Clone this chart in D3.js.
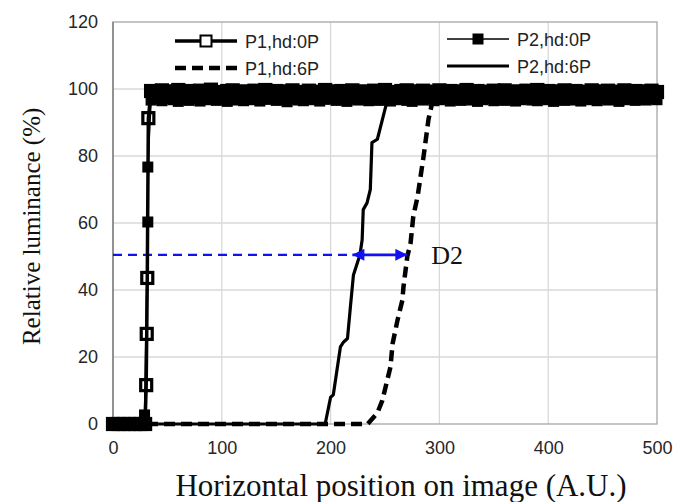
<!DOCTYPE html>
<html>
<head>
<meta charset="utf-8">
<script src="https://cdn.jsdelivr.net/npm/d3@7"></script>
<style>
body { margin: 0; background: #fff; }
svg { display: block; }
</style>
</head>
<body>
<script>
// axis ticks
var xTicks = [0, 100, 200, 300, 400, 500]
var yTicks = [0, 20, 40, 60, 80, 100, 120]

// P1,hd:0P - foot, rise and plateau (plateau sampled every 5 units from 35)
var p1Foot = [[0, 0], [5, 0], [10, 0], [15, 0], [20, 0], [25, 0], [29.5, 0]]
var p1Rise = [[30.5, 11.6], [31, 26.9], [31.5, 43.6], [32.5, 91.3]]
var p1Plateau = [99.4, 99.1, 99.6, 98.9, 99.3, 99.7, 99.0, 99.4, 98.8, 99.5,
	99.2, 99.8, 99.1, 98.9, 99.4, 99.6, 99.0, 99.3, 98.7, 99.5,
	99.2, 99.7, 99.0, 99.4, 98.9, 99.3, 99.6, 99.1, 98.8, 99.5,
	99.2, 99.0, 99.7, 99.3, 98.9, 99.4, 99.1, 99.6, 99.0, 99.3,
	98.8, 99.5, 99.2, 99.7, 99.1, 98.9, 99.4, 99.6, 99.0, 99.3,
	99.5, 98.8, 99.2, 99.6, 99.1, 99.4, 98.9, 99.3, 99.7, 99.0,
	99.4, 99.2, 98.8, 99.5, 99.1, 99.6, 99.0, 99.3, 98.9, 99.5,
	99.2, 99.7, 99.0, 99.4, 98.8, 99.3, 99.6, 99.1, 99.4, 98.9,
	99.2, 99.6, 99.0, 99.3, 99.5, 98.9, 99.2, 99.6, 99.1, 99.4,
	99.0, 99.3, 99.5, 99.1]

// P2,hd:0P
var p2Foot = [[0, 0], [5, 0], [10, 0], [15, 0], [20, 0], [25, 0], [28, 0]]
var p2Rise = [[29, 2.7], [32, 60.3], [32, 76.7]]
var p2Plateau = [96.7, 97.0, 96.5, 97.2, 96.8, 96.3, 96.9, 96.6, 97.1, 96.4,
	96.8, 97.2, 96.6, 96.9, 96.3, 96.7, 97.0, 96.5, 97.3, 96.8,
	96.4, 96.9, 97.1, 96.6, 96.8, 96.2, 97.0, 96.7, 96.5, 97.1,
	96.8, 96.4, 96.9, 97.2, 96.6, 96.8, 96.3, 97.0, 96.7, 97.1,
	96.5, 96.9, 96.6, 97.2, 96.4, 96.8, 97.0, 96.6, 96.3, 96.9,
	96.7, 97.1, 96.5, 96.8, 97.2, 96.4, 96.9, 96.6, 97.0, 96.7,
	96.3, 96.8, 97.1, 96.5, 96.9, 96.6, 97.2, 96.4, 96.8, 97.0,
	96.7, 96.5, 97.1, 96.8, 96.3, 96.9, 96.6, 97.2, 96.7, 96.4,
	97.0, 96.8, 96.5, 97.1, 96.7, 96.9, 96.3, 96.8, 97.0, 96.6,
	96.9, 96.7, 97.2, 96.8]
var plateauStart = 35
var plateauStep = 5

// P1,hd:6P (dashed)
var p1Shift = [[0, 0], [234, 0], [243, 3.3], [247.5, 7], [252, 13], [255, 17],
	[257, 24], [261.5, 31], [266, 37], [267, 41], [270.5, 50], [273.5, 54],
	[276, 62], [280, 68], [285.5, 80], [290, 91], [294.5, 97.5],
	[350, 98], [450, 97.8], [500, 98]]

// P2,hd:6P (solid)
var p2Shift = [[0, 0], [195, 0], [200, 8], [202.5, 8.7], [209, 23], [212, 24.5],
	[215.5, 25.5], [218.5, 36], [221, 44.5], [227, 50.5], [229, 55], [230, 64],
	[233.5, 66], [236.5, 70], [238, 84], [243, 85], [250.5, 94.6], [253, 97],
	[260, 97.6], [350, 97.8], [450, 97.5], [500, 97.6]]

// D2 annotation
var d2Level = 50.5
var d2From = 220
var d2To = 270.5

var width = 676, height = 502
var margin = {left: 113, right: 19, top: 22, bottom: 78}

var svg = d3.select("body").append("svg")
	.attr("width", width)
	.attr("height", height)

var x = d3.scaleLinear().domain([0, 500]).range([margin.left, width - margin.right])
var y = d3.scaleLinear().domain([0, 120]).range([height - margin.bottom, margin.top])

function withPlateau(foot, rise, plateau) {
	var pts = foot.concat(rise).map(function(d) { return [d[0], d[1], false] })
	plateau.forEach(function(v, i) {
		pts.push([plateauStart + i * plateauStep, v, true])
	})
	return pts
}

var p1 = withPlateau(p1Foot, p1Rise, p1Plateau)
var p2 = withPlateau(p2Foot, p2Rise, p2Plateau)

// grid
svg.append("g").selectAll("line.gy")
	.data(yTicks.filter(function(d) { return d > 0 && d < 120 }))
	.join("line")
	.attr("x1", x(0)).attr("x2", x(500))
	.attr("y1", function(d) { return y(d) }).attr("y2", function(d) { return y(d) })
	.attr("stroke", "#d9d9d9").attr("stroke-width", 1.3)

svg.append("g").selectAll("line.gx")
	.data(xTicks.filter(function(d) { return d > 0 && d < 500 }))
	.join("line")
	.attr("x1", function(d) { return x(d) }).attr("x2", function(d) { return x(d) })
	.attr("y1", y(0)).attr("y2", y(120))
	.attr("stroke", "#d9d9d9").attr("stroke-width", 1.3)

// frame
svg.append("rect")
	.attr("x", x(0)).attr("y", y(120))
	.attr("width", x(500) - x(0)).attr("height", y(0) - y(120))
	.attr("fill", "none").attr("stroke", "#a6a6a6").attr("stroke-width", 1.3)
svg.append("line")
	.attr("x1", x(0)).attr("x2", x(0)).attr("y1", y(0)).attr("y2", y(120))
	.attr("stroke", "#808080").attr("stroke-width", 1.5)

// axes
var xAxis = svg.append("g")
	.attr("transform", "translate(0," + (y(0) + 11) + ")")
	.call(d3.axisBottom(x).tickValues(xTicks).tickSize(0).tickPadding(6))
var yAxis = svg.append("g")
	.attr("transform", "translate(" + (x(0) - 15) + ",0)")
	.call(d3.axisLeft(y).tickValues(yTicks).tickSize(0).tickPadding(0))
;[xAxis, yAxis].forEach(function(a) {
	a.select(".domain").remove()
	a.selectAll("text")
		.attr("font-family", "'Liberation Sans', Arial, sans-serif")
		.attr("font-size", 18)
		.attr("fill", "#262626")
})

// axis titles
svg.append("text")
	.attr("x", 401).attr("y", 496)
	.attr("text-anchor", "middle")
	.attr("font-family", "'Liberation Serif', 'Times New Roman', serif")
	.attr("font-size", 31)
	.attr("fill", "#111")
	.text("Horizontal position on image (A.U.)")
svg.append("text")
	.attr("transform", "translate(40," + y(59) + ") rotate(-90)")
	.attr("text-anchor", "middle")
	.attr("font-family", "'Liberation Serif', 'Times New Roman', serif")
	.attr("font-size", 25)
	.attr("fill", "#111")
	.text("Relative luminance (%)")

var line = d3.line()
	.x(function(d) { return x(d[0]) })
	.y(function(d) { return y(d[1]) })

// shifted curves
svg.append("path").datum(p1Shift)
	.attr("d", line).attr("fill", "none")
	.attr("stroke", "#000").attr("stroke-width", 4.5)
	.attr("stroke-dasharray", "11,6")
svg.append("path").datum(p2Shift)
	.attr("d", line).attr("fill", "none")
	.attr("stroke", "#000").attr("stroke-width", 3.2)
	.attr("stroke-linejoin", "round")

// D2 annotation
var defs = svg.append("defs")
defs.append("marker").attr("id", "ah")
	.attr("viewBox", "0 0 10 10").attr("refX", 10).attr("refY", 5)
	.attr("markerWidth", 15).attr("markerHeight", 12)
	.attr("markerUnits", "userSpaceOnUse")
	.attr("orient", "auto-start-reverse")
	.append("path").attr("d", "M0,0L10,5L0,10Z").attr("fill", "#1010f0")

svg.append("line")
	.attr("x1", x(0)).attr("x2", x(d2From))
	.attr("y1", y(d2Level)).attr("y2", y(d2Level))
	.attr("stroke", "#1010f0").attr("stroke-width", 2.4)
	.attr("stroke-dasharray", "9,6")
svg.append("line")
	.attr("x1", x(d2From)).attr("x2", x(d2To))
	.attr("y1", y(d2Level)).attr("y2", y(d2Level))
	.attr("stroke", "#1010f0").attr("stroke-width", 2.6)
	.attr("marker-start", "url(#ah)").attr("marker-end", "url(#ah)")
svg.append("text")
	.attr("x", x(d2To) + 24).attr("y", y(d2Level) + 9)
	.attr("font-family", "'Liberation Serif', 'Times New Roman', serif")
	.attr("font-size", 26)
	.attr("fill", "#111")
	.text("D2")

// 0P curves - in the dense plateau the overlapping markers merge into a solid band
var ms = 11
svg.append("path").datum(p1)
	.attr("d", line).attr("fill", "none")
	.attr("stroke", "#000").attr("stroke-width", 3.5)
svg.append("g").selectAll("rect")
	.data(p1).join("rect")
	.attr("x", function(d) { return x(d[0]) - ms / 2 })
	.attr("y", function(d) { return y(d[1]) - ms / 2 })
	.attr("width", ms).attr("height", ms)
	.attr("fill", function(d) { return d[2] ? "#000" : "none" })
	.attr("stroke", "#000").attr("stroke-width", 3.2)

svg.append("path").datum(p2)
	.attr("d", line).attr("fill", "none")
	.attr("stroke", "#000").attr("stroke-width", 1.6)
svg.append("g").selectAll("rect")
	.data(p2).join("rect")
	.attr("x", function(d) { return x(d[0]) - ms / 2 })
	.attr("y", function(d) { return y(d[1]) - ms / 2 })
	.attr("width", ms).attr("height", ms)
	.attr("fill", "#000")

// legend
var legendItems = [
	{label: "P1,hd:0P", x0: 175, yy: 41, w: 3.5, dash: null, mark: "open"},
	{label: "P1,hd:6P", x0: 175, yy: 68, w: 4.5, dash: "11,6", mark: null},
	{label: "P2,hd:0P", x0: 447, yy: 39, w: 1.6, dash: null, mark: "filled"},
	{label: "P2,hd:6P", x0: 447, yy: 66, w: 3.2, dash: null, mark: null}
]
var lg = svg.append("g").selectAll("g").data(legendItems).join("g")
lg.append("line")
	.attr("x1", function(d) { return d.x0 }).attr("x2", function(d) { return d.x0 + 62 })
	.attr("y1", function(d) { return d.yy }).attr("y2", function(d) { return d.yy })
	.attr("stroke", "#000")
	.attr("stroke-width", function(d) { return d.w })
	.attr("stroke-dasharray", function(d) { return d.dash })
lg.filter(function(d) { return d.mark }).append("rect")
	.attr("x", function(d) { return d.x0 + 31 - 5.5 })
	.attr("y", function(d) { return d.yy - 5.5 })
	.attr("width", 11).attr("height", 11)
	.attr("fill", function(d) { return d.mark === "open" ? "#fff" : "#000" })
	.attr("stroke", "#000")
	.attr("stroke-width", function(d) { return d.mark === "open" ? 2 : 0 })
lg.append("text")
	.attr("x", function(d) { return d.x0 + 70 })
	.attr("y", function(d) { return d.yy + 6.5 })
	.attr("font-family", "'Liberation Sans', Arial, sans-serif")
	.attr("font-size", 18)
	.attr("fill", "#222")
	.text(function(d) { return d.label })
</script>
</body>
</html>
